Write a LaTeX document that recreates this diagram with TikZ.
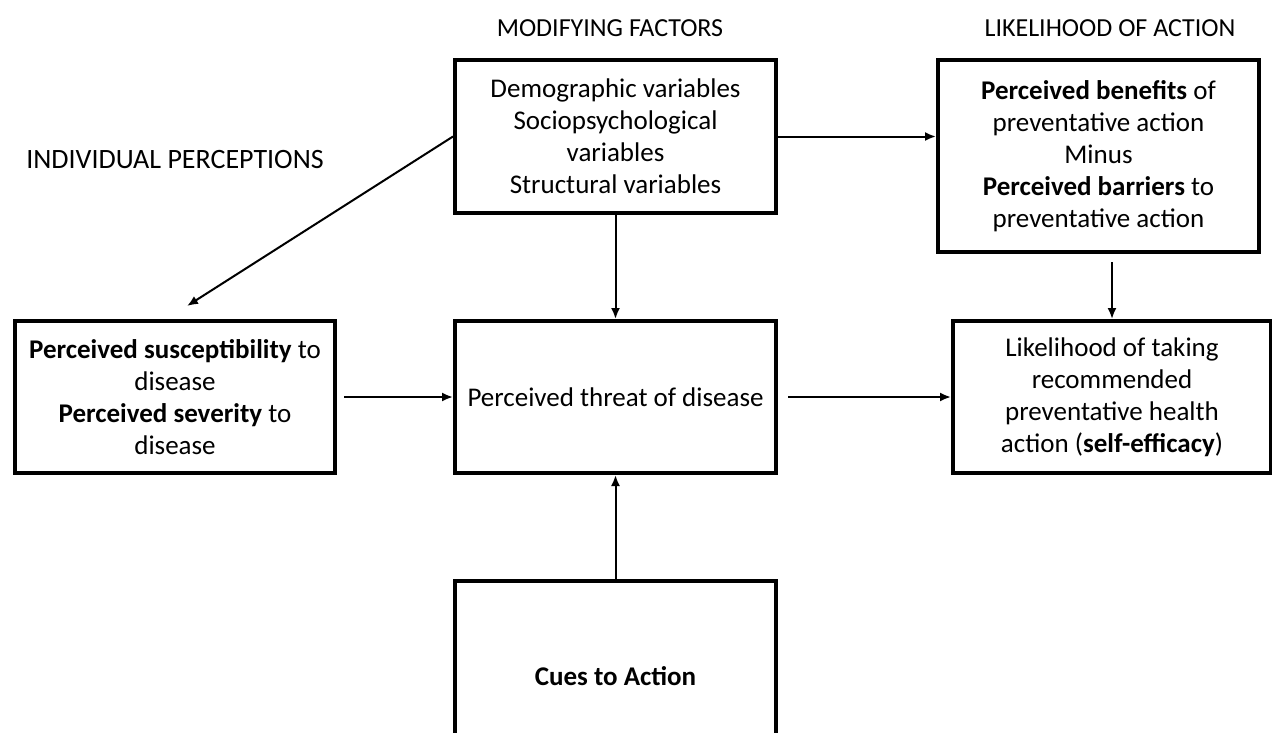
\documentclass[tikz,border=0pt]{standalone}
\usepackage{fontspec}
\setmainfont{Carlito}
\usetikzlibrary{arrows.meta}

\tikzset{
  hbmbox/.style={draw,line width=4pt,inner sep=0pt,minimum width=321pt,minimum height=152pt,align=center,
    font=\fontsize{27}{32}\selectfont},
  hbmhead/.style={font=\fontsize{26}{30}\selectfont},
  hbmarrow/.style={-{Latex[length=11pt,width=9pt]},line width=2pt}
}

\begin{document}
\begin{tikzpicture}[x=1pt,y=-1pt]
      \useasboundingbox (0,0) rectangle (1272,732);
      \clip (0,0) rectangle (1272,732);
      % headings
      \node[hbmhead] (hmod) at (610,28) {MODIFYING FACTORS};
      \node[hbmhead] (hlike) at (1110,28) {LIKELIHOOD OF ACTION};
      \node[hbmhead,font=\fontsize{28}{30}\selectfont] (hind) at (175,160) {INDIVIDUAL PERCEPTIONS};
      % boxes
      \node[hbmbox,minimum height=153pt] (mod) at (615.5,136.5)
      {Demographic variables\\ Sociopsychological\\ variables\\ Structural variables};
      \node[hbmbox,minimum height=192pt] (benefit) at (1098.5,156)
      {\textbf{Perceived benefits} of\\ preventative action\\ Minus\\ \textbf{Perceived barriers} to\\ preventative action};
      \node[hbmbox,minimum width=320pt] (percv) at (175,397)
      {\textbf{Perceived susceptibility} to\\ disease\\ \textbf{Perceived severity} to\\ disease};
      \node[hbmbox] (threat) at (615.5,397) {Perceived threat of disease};
      \node[hbmbox,minimum width=318pt] (take) at (1112,397)
      {Likelihood of taking\\ recommended\\ preventative health\\ action (\textbf{self-efficacy})};
      \node[hbmbox,minimum height=190pt] (cues) at (615.5,676) {\textbf{Cues to Action}};
      % connectors
      \coordinate (diagend) at (187,306);
      \draw[hbmarrow] (mod.south) -- (threat.north);
      \draw[hbmarrow] (mod.east) -- (benefit.west |- mod.east);
      \draw[hbmarrow] (mod.west) -- (diagend);
      \draw[hbmarrow] ([xshift=7pt]percv.east) -- (threat.west);
      \draw[hbmarrow] ([xshift=10pt]threat.east) -- (take.west);
      \draw[hbmarrow] ([yshift=-8pt]benefit.south -| take.north) -- (take.north);
      \draw[hbmarrow] (cues.north) -- (threat.south);
    \end{tikzpicture}
\end{document}
